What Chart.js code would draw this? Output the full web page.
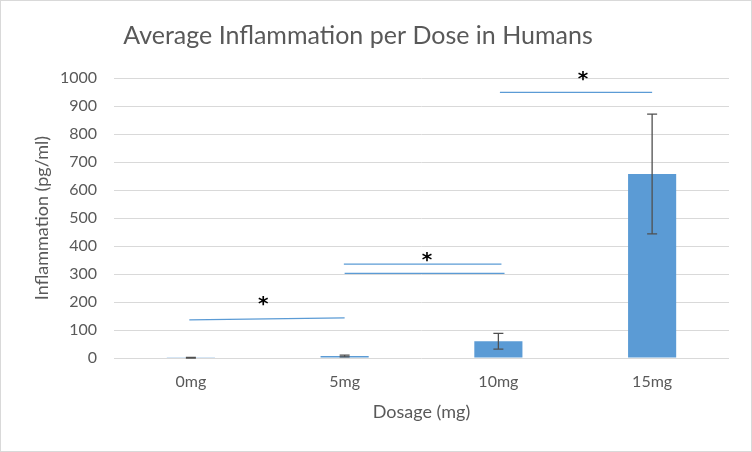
<!DOCTYPE html>
<html lang="en">
  <head>
    <meta charset="UTF-8" />
    <title>Average Inflammation per Dose in Humans</title>
    <script src="https://cdn.jsdelivr.net/npm/chart.js"></script>
    <style>
      body {
        margin: 0;
        background: #fff;
      }
      .chart-box {
        position: relative;
        width: 752px;
        height: 452px;
        outline: 1px solid #d9d9d9;
        outline-offset: -1px;
      }
    </style>
  </head>
  <body>
    <div class="chart-box"><canvas id="doseChart"></canvas></div>
    <script>
      const doses = ["0mg", "5mg", "10mg", "15mg"];
      const inflammation = [1, 7, 60, 657];
      const errorMargins = [1, 3, 28, 214];
      const yMin = 0;
      const yMax = 1000;
      const yStep = 100;

      // significance bars: [from category, to category, value at start, value at end]
      const sigLines = [
        [-0.01, 1.0, 136, 143],
        [0.995, 2.02, 335, 335],
        [1.0, 2.04, 302, 302],
        [2.01, 3.0, 949, 949],
      ];
      // asterisks: [category position, value]
      const sigStars = [
        [0.47, 200],
        [1.535, 357],
        [2.55, 1004],
      ];

      const textColor = "#595959";
      const barColor = "#5b9bd5";

      // error bars + significance marks
      const extrasPlugin = {
        id: "extras",
        afterLayout(chart) {
          // title in the original sits a bit left of centre
          chart.titleBlock.left = 0;
          chart.titleBlock.right = 716;
        },
        afterDatasetsDraw(chart) {
          const ctx = chart.ctx;
          const x = chart.scales.x;
          const y = chart.scales.y;
          const meta = chart.getDatasetMeta(0);

          ctx.save();
          ctx.strokeStyle = "#505050";
          ctx.lineWidth = 1.3;
          meta.data.forEach((bar, i) => {
            const top = y.getPixelForValue(inflammation[i] + errorMargins[i]);
            const bot = y.getPixelForValue(
              Math.max(0, inflammation[i] - errorMargins[i])
            );
            ctx.beginPath();
            ctx.moveTo(bar.x, top);
            ctx.lineTo(bar.x, bot);
            ctx.moveTo(bar.x - 5, top);
            ctx.lineTo(bar.x + 5, top);
            ctx.moveTo(bar.x - 5, bot);
            ctx.lineTo(bar.x + 5, bot);
            ctx.stroke();
          });

          ctx.strokeStyle = barColor;
          ctx.lineWidth = 1.3;
          sigLines.forEach((l) => {
            ctx.beginPath();
            ctx.moveTo(x.getPixelForValue(l[0]), y.getPixelForValue(l[2]));
            ctx.lineTo(x.getPixelForValue(l[1]), y.getPixelForValue(l[3]));
            ctx.stroke();
          });

          ctx.fillStyle = "#000";
          ctx.font = "bold 20px 'DejaVu Sans'";
          ctx.textAlign = "center";
          ctx.textBaseline = "middle";
          sigStars.forEach((s) => {
            ctx.fillText("*", x.getPixelForValue(s[0]), y.getPixelForValue(s[1]) + 3);
          });
          ctx.restore();
        },
      };

      const chart = new Chart(document.getElementById("doseChart"), {
        type: "bar",
        data: {
          labels: doses,
          datasets: [
            {
              data: inflammation,
              backgroundColor: barColor,
              barPercentage: 0.313,
              categoryPercentage: 1,
            },
          ],
        },
        options: {
          responsive: true,
          maintainAspectRatio: false,
          animation: false,
          layout: { padding: { left: 0, right: 23, top: 0, bottom: 0 } },
          plugins: {
            legend: { display: false },
            tooltip: { enabled: false },
            title: {
              display: true,
              text: "Average Inflammation per Dose in Humans",
              color: textColor,
              font: { family: "Lato", size: 25, weight: "normal" },
              padding: { top: 21, bottom: 27 },
            },
          },
          scales: {
            x: {
              grid: { display: false },
              border: { display: false },
              ticks: {
                color: textColor,
                font: { family: "Lato", size: 16 },
                padding: 6,
              },
              title: {
                display: true,
                text: "Dosage (mg)",
                color: textColor,
                font: { family: "Lato", size: 18 },
                padding: { top: 0, bottom: 29.2 },
              },
              afterFit(scale) {
                scale.height = 94;
              },
            },
            y: {
              min: yMin,
              max: yMax,
              grid: { color: "#d9d9d9", drawTicks: false },
              border: { display: false },
              ticks: {
                stepSize: yStep,
                format: { useGrouping: false },
                color: textColor,
                font: { family: "Lato", size: 16 },
                padding: 17,
              },
              title: {
                display: true,
                text: "Inflammation (pg/ml)",
                color: textColor,
                font: { family: "Lato", size: 18 },
                padding: { top: 31.2, bottom: 0 },
              },
              afterFit(scale) {
                scale.width = 114;
              },
            },
          },
        },
        plugins: [extrasPlugin],
      });
    </script>
  </body>
</html>
